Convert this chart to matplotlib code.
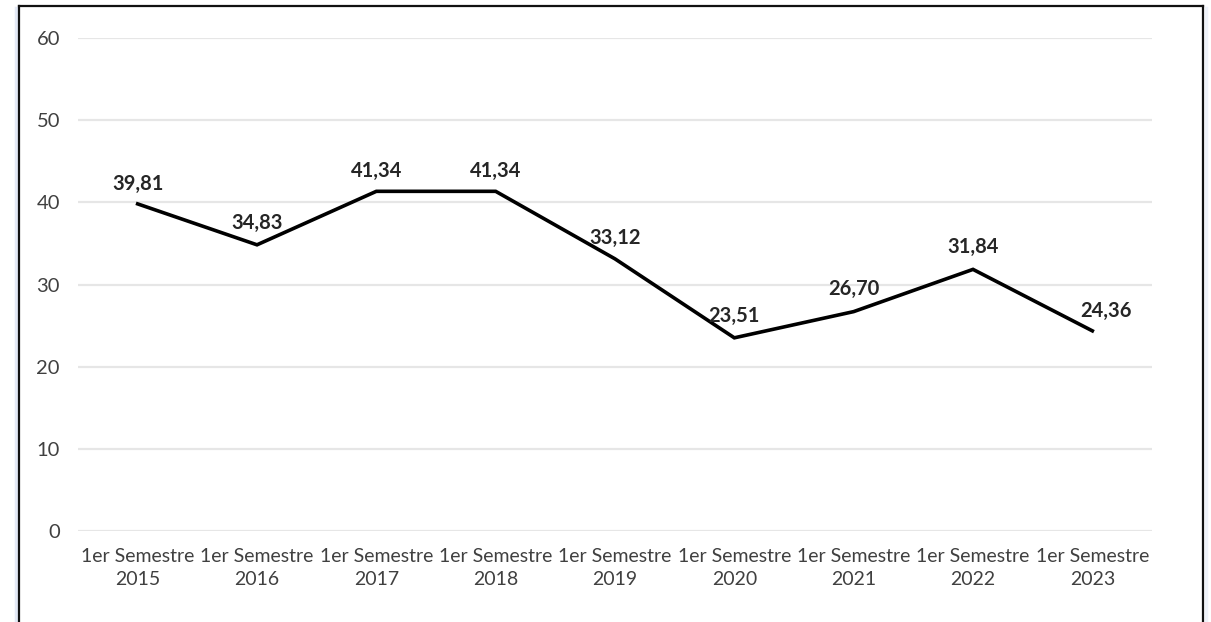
import matplotlib
matplotlib.use("Agg")
import matplotlib.pyplot as plt
from matplotlib.lines import Line2D

categories = ["1er Semestre\n2015", "1er Semestre\n2016", "1er Semestre\n2017",
              "1er Semestre\n2018", "1er Semestre\n2019", "1er Semestre\n2020",
              "1er Semestre\n2021", "1er Semestre\n2022", "1er Semestre\n2023"]
values = [39.81, 34.83, 41.34, 41.34, 33.12, 23.51, 26.70, 31.84, 24.36]
labels = ["39,81", "34,83", "41,34", "41,34", "33,12", "23,51", "26,70", "31,84", "24,36"]
yticks = [0, 10, 20, 30, 40, 50, 60]

# label offsets in points (dx, dy)
offsets = [(0, 14), (0, 16), (0, 15), (0, 15), (0, 15), (0, 16), (0, 16), (0, 16), (10, 14)]

plt.rcParams['font.family'] = ['Lato', 'DejaVu Sans']

fig = plt.figure(figsize=(12.11, 6.22), dpi=100)
ax = fig.add_axes([78 / 1211, 1 - 531 / 622, (1152 - 78) / 1211, (531 - 38) / 622])

x = list(range(len(values)))
ax.plot(x, values, color="black", lw=2.6, solid_joinstyle="miter", zorder=3)

for xi, v, lab, (dx, dy) in zip(x, values, labels, offsets):
    ax.annotate(lab, (xi, v), xytext=(dx, dy), textcoords="offset points",
                ha="center", va="center", fontsize=14.5, fontweight="bold",
                color="#262626")

ax.set_xlim(-0.5, len(values) - 0.5)
ax.set_ylim(0, 60)
ax.set_yticks(yticks)
ax.set_xticks(x)
ax.set_xticklabels(categories, linespacing=1.45)
ax.grid(axis="y", color="#e6e6e6", lw=1.6)
ax.set_axisbelow(True)
for s in ax.spines.values():
    s.set_visible(False)
ax.tick_params(axis="both", length=0, labelcolor="#404040")
ax.tick_params(axis="y", pad=13, labelsize=14.5)
ax.tick_params(axis="x", pad=12, labelsize=14)

# screenshot frame
W, H = 1211, 622
def fl(x0, y0, x1, y1, **kw):
    fig.add_artist(Line2D([x0 / W, x1 / W], [1 - y0 / H, 1 - y1 / H],
                          transform=fig.transFigure, **kw))

fl(16, 8, 16, 622, color="#e3e9f6", lw=2.5)
fl(1206, 8, 1206, 622, color="#eef2f9", lw=2.5)
fl(19, 6, 1203, 6, color="#111111", lw=1.6)
fl(19, 6, 19, 622, color="#111111", lw=1.6)
fl(1203, 6, 1203, 622, color="#111111", lw=1.6)

fig.savefig("out.png", dpi=100)
